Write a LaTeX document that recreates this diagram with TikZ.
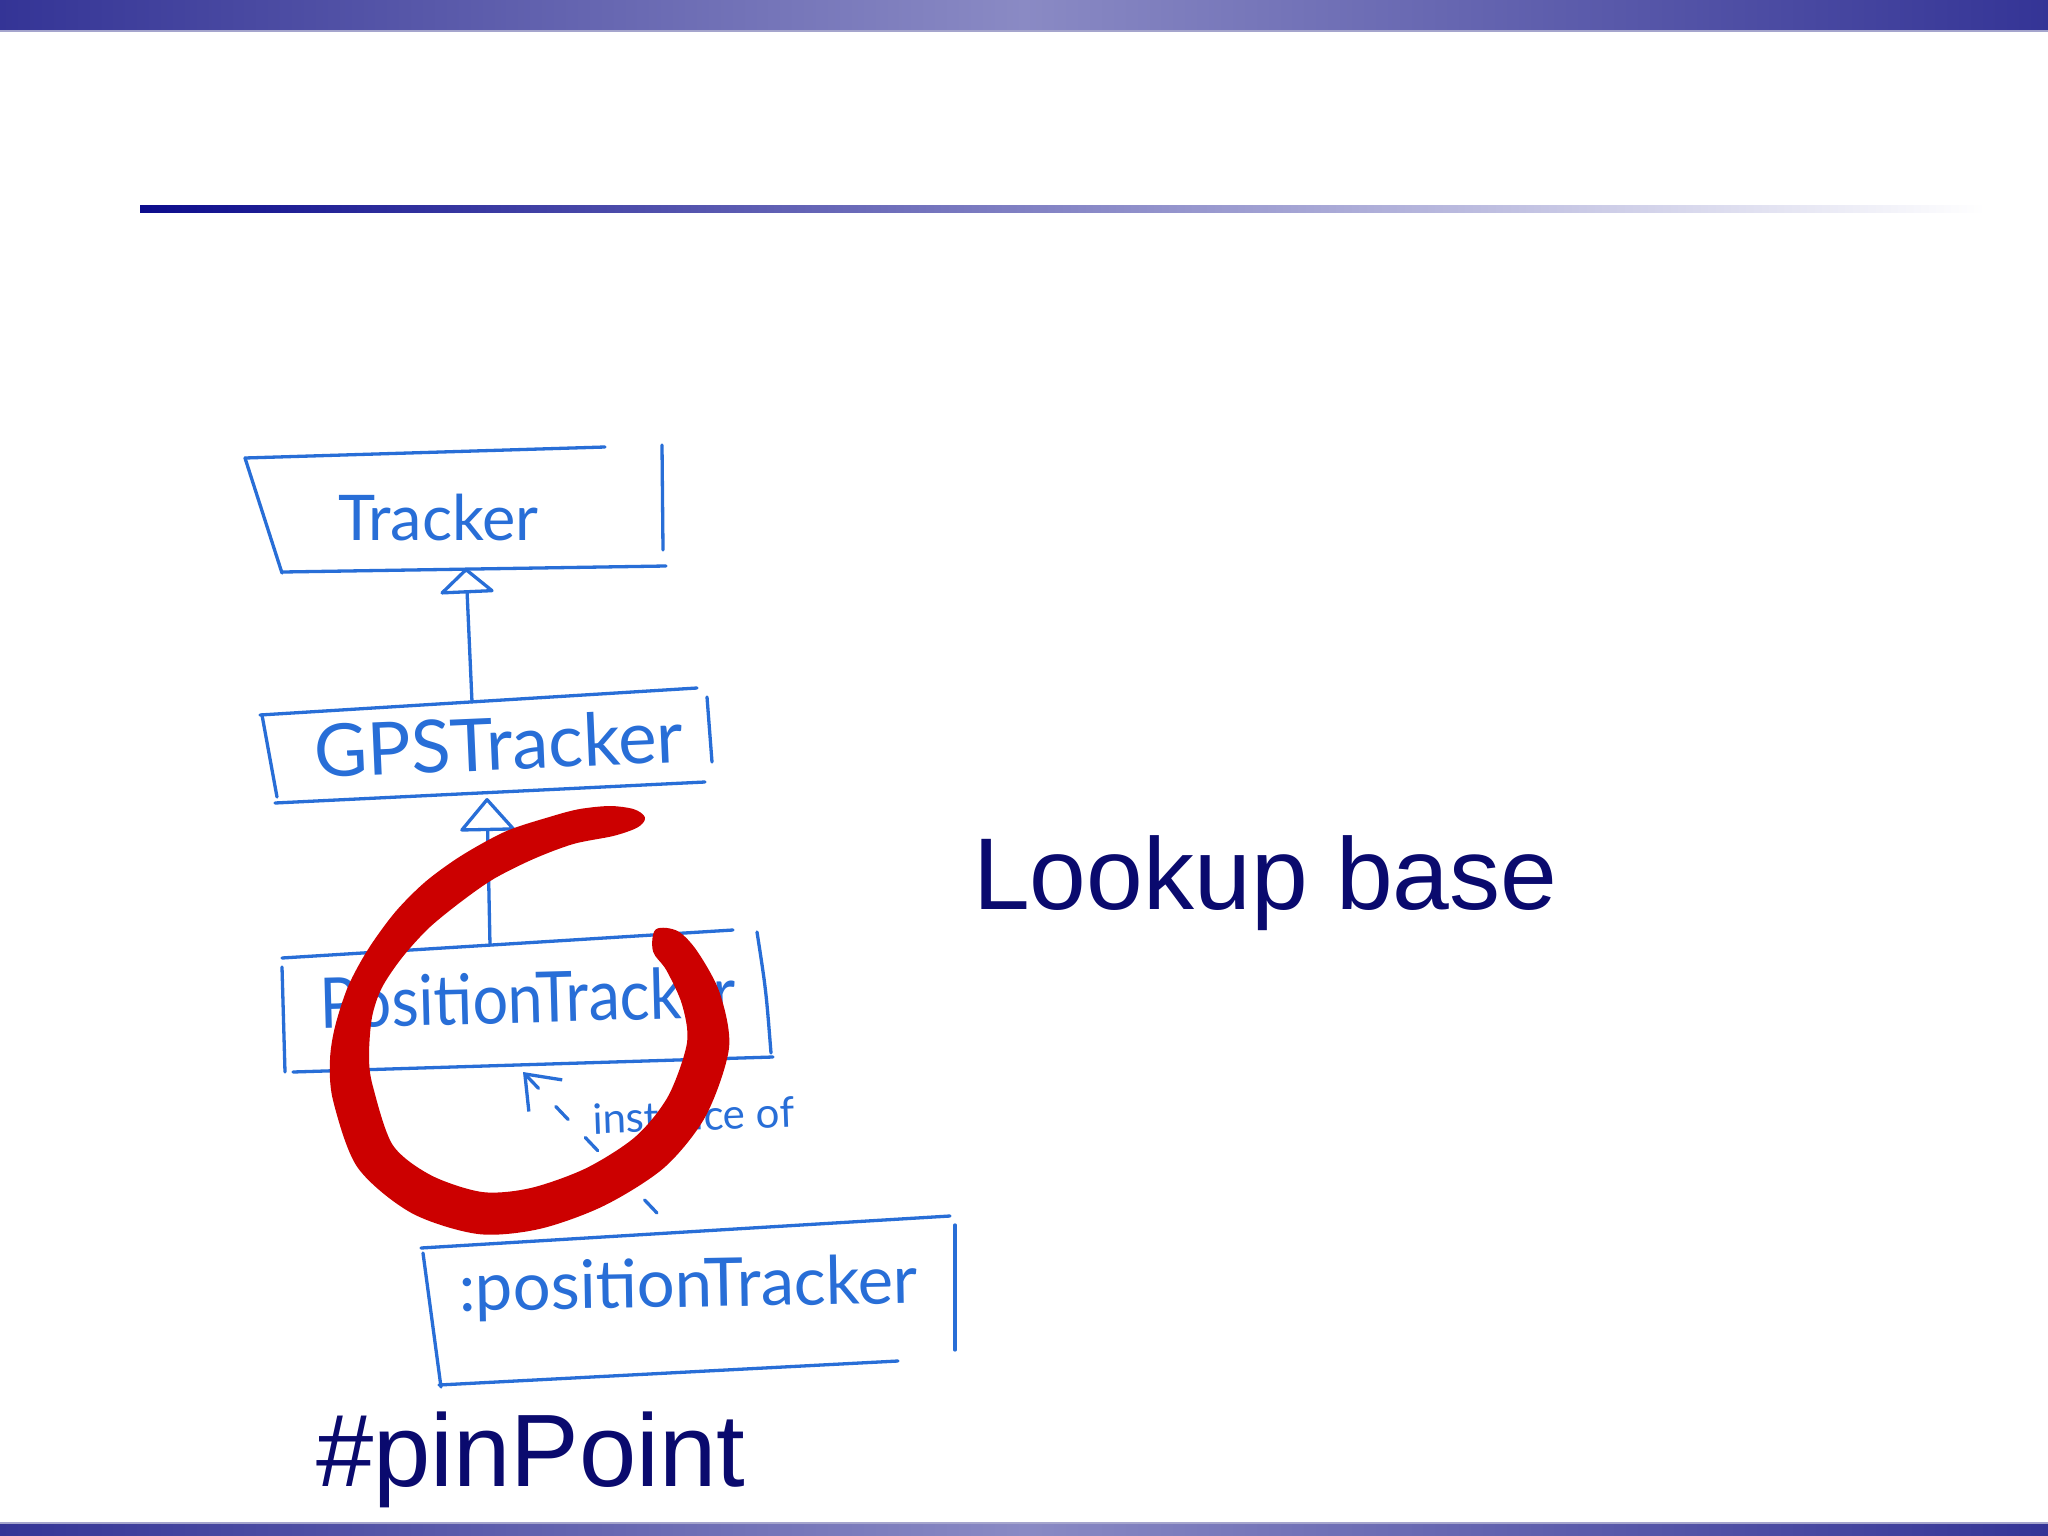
\documentclass[tikz,border=0pt]{standalone}
\usepackage{fontspec}
\setmainfont{Liberation Sans}
\newfontfamily\handfont{Lato}
\usetikzlibrary{arrows.meta}
\definecolor{bardark}{RGB}{52,52,150}
\definecolor{barlight}{RGB}{138,138,196}
\definecolor{baredge}{RGB}{165,165,205}
\definecolor{linedark}{RGB}{12,12,140}
\definecolor{linemid}{RGB}{120,120,205}
\definecolor{navytext}{RGB}{10,10,110}
\definecolor{penblue}{RGB}{40,110,215}
\definecolor{penred}{RGB}{204,0,0}
\begin{document}
\begin{tikzpicture}[x=1pt,y=-1pt,
  hand/.style={draw=penblue,line width=3.3pt,line cap=round,line join=round},
  handtext/.style={text=penblue,inner sep=0pt,anchor=base west},
  slidetext/.style={text=navytext,inner sep=0pt,anchor=base west}]
\useasboundingbox (0,0) rectangle (2048,1536);
\fill[white] (0,0) rectangle (2048,1536);
% slide decoration
\shade[left color=bardark,right color=bardark,middle color=barlight] (0,0) rectangle (2048,31);
\draw[baredge,line width=1.5pt] (0,31) -- (2048,31);
\shade[left color=bardark,right color=bardark,middle color=barlight] (0,1524) rectangle (2048,1536);
\draw[baredge,line width=1.5pt] (0,1523) -- (2048,1523);
\shade[left color=linedark,middle color=linemid,right color=white] (140,205) rectangle (1985,212);
% slide texts
\node[slidetext,font=\fontsize{102}{110}\selectfont] (lookup) at (973,909) {Lookup base};
\node[slidetext,font=\fontsize{103}{112}\selectfont] (pin) at (316,1486) {\#pinPoint};
% Tracker box
\draw[hand] (245,458) -- (605,447);
\draw[hand] (245,458) -- (282,573);
\draw[hand] (283,572) -- (666,566);
\draw[hand] (662,445) -- (663,550);
\node[handtext,font=\handfont\fontsize{63}{70}\selectfont] (tracker) at (338,540) {Tracker};
% GPSTracker box
\draw[hand] (260,715) -- (697,688);
\draw[hand] (262,715) -- (277,797);
\draw[hand] (275,803) -- (705,782);
\draw[hand] (707,697) -- (712,762);
\node[handtext,font=\handfont\fontsize{73}{80}\selectfont,rotate=2.5] (gps) at (315,778) {GPSTracker};
% PositionTracker box
\draw[hand] (282,958) -- (733,930);
\draw[hand] (282,967) -- (285,1072);
\draw[hand] (293,1072) -- (773,1057);
\draw[hand] (757,932) .. controls (766,990) .. (771,1053);
\node[handtext,font=\handfont\fontsize{70}{78}\selectfont,rotate=1.5,xscale=0.9] (pos) at (320,1028) {PositionTracker};
% :positionTracker box
\draw[hand] (421,1248) -- (950,1216);
\draw[hand] (423,1253) -- (441,1387);
\draw[hand] (439,1385) -- (898,1361);
\draw[hand] (955,1225) -- (955,1350);
\node[handtext,font=\handfont\fontsize{67}{74}\selectfont,rotate=1] (inst) at (459,1311) {:positionTracker};
% connectors
\coordinate (a1tip) at (466,568);
\coordinate (a1tail) at (472,702);
\coordinate (a2tip) at (487,798);
\coordinate (a2tail) at (490,945);
\coordinate (a3tip) at (523,1072);
\coordinate (a3tail) at (657,1213);
\draw[hand,-{Triangle[open,length=26pt,width=58pt,line join=round]}] (a1tail) -- (a1tip);
\draw[hand,-{Triangle[open,length=34pt,width=58pt,line join=round]}] (a2tail) -- (a2tip);
\draw[hand,dash pattern=on 18pt off 25pt,-{Straight Barb[length=30pt,width=46pt]}] (a3tail) -- (a3tip);
\node[handtext,font=\handfont\fontsize{42}{48}\selectfont,rotate=2] (lbl) at (593,1134) {instance of};
% red pen circle
\filldraw[penred,line width=4pt,line join=round] plot[smooth cycle,tension=0.5] coordinates {
 (633,811) (610,808) (580,811) (553,818) (507,833) (463,857) (427,883) (397,913)
 (370,950) (350,987) (337,1027) (332,1060) (335,1100) (359,1166) (412,1211) (478,1232)
 (539,1227) (603,1204) (663,1166) (704,1115) (727,1048) (718,994) (696,953) (677,933)
 (657,931)
 (655,951) (668,969) (684,1004) (689,1043) (670,1097) (637,1138) (587,1170) (531,1190)
 (482,1194) (430,1177) (391,1146) (371,1087) (367,1057) (370,1017) (380,987) (400,957)
 (427,927) (460,900) (493,877) (533,857) (573,842) (613,834) (636,826)
 (643,818)};
\end{tikzpicture}
\end{document}
